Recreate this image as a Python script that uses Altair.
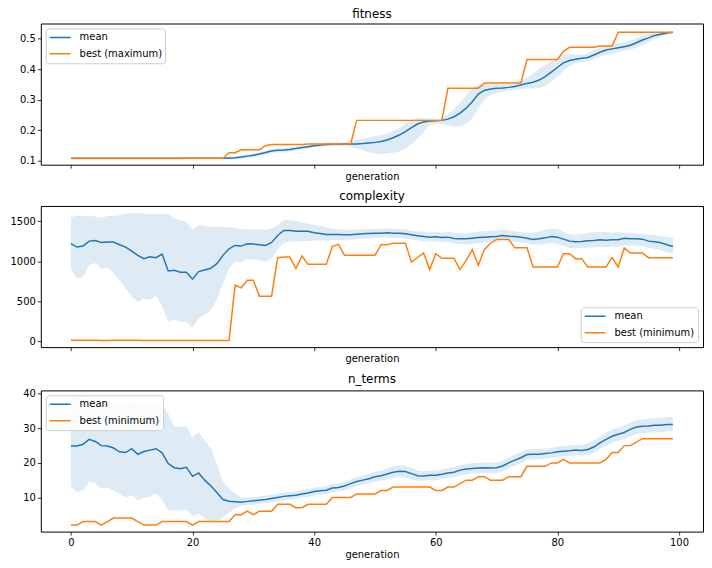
import altair as alt
import pandas as pd

generations = list(range(100))

# ---------------- fitness ----------------
fit_mean = [
    0.108, 0.108, 0.108, 0.108, 0.108, 0.108, 0.108, 0.108, 0.108, 0.108,
    0.108, 0.108, 0.108, 0.108, 0.108, 0.108, 0.108, 0.108, 0.108, 0.108,
    0.108, 0.108, 0.108, 0.108, 0.108, 0.108, 0.109, 0.110, 0.112, 0.115,
    0.118, 0.122, 0.127, 0.132, 0.134, 0.135, 0.137, 0.140, 0.143, 0.146,
    0.149, 0.151, 0.153, 0.154, 0.154, 0.155, 0.155, 0.155, 0.156, 0.158,
    0.160, 0.163, 0.168, 0.175, 0.184, 0.195, 0.208, 0.220, 0.227, 0.230,
    0.231, 0.232, 0.236, 0.244, 0.256, 0.272, 0.293, 0.318, 0.330, 0.335,
    0.337, 0.338, 0.340, 0.343, 0.348, 0.353, 0.357, 0.364, 0.375, 0.390,
    0.405, 0.420, 0.428, 0.432, 0.435, 0.438, 0.446, 0.455, 0.462, 0.466,
    0.470, 0.473, 0.478, 0.486, 0.495, 0.502, 0.510, 0.514, 0.518, 0.520,
]
fit_best = [
    0.107, 0.107, 0.107, 0.107, 0.107, 0.107, 0.107, 0.107, 0.107, 0.107,
    0.107, 0.107, 0.107, 0.107, 0.107, 0.107, 0.107, 0.107, 0.107, 0.108,
    0.108, 0.108, 0.108, 0.108, 0.108, 0.108, 0.126, 0.126, 0.136, 0.136,
    0.136, 0.136, 0.149, 0.153, 0.153, 0.153, 0.153, 0.153, 0.153, 0.155,
    0.155, 0.155, 0.155, 0.155, 0.155, 0.155, 0.155, 0.232, 0.232, 0.232,
    0.232, 0.232, 0.232, 0.232, 0.232, 0.232, 0.232, 0.232, 0.232, 0.232,
    0.232, 0.232, 0.337, 0.337, 0.337, 0.337, 0.337, 0.337, 0.354, 0.354,
    0.354, 0.354, 0.354, 0.354, 0.354, 0.431, 0.431, 0.431, 0.431, 0.431,
    0.431, 0.458, 0.471, 0.471, 0.471, 0.471, 0.471, 0.475, 0.475, 0.475,
    0.520, 0.520, 0.520, 0.520, 0.520, 0.520, 0.520, 0.520, 0.520, 0.520,
]
fit_lo = [
    0.106, 0.106, 0.106, 0.106, 0.106, 0.106, 0.106, 0.106, 0.106, 0.106,
    0.106, 0.106, 0.106, 0.106, 0.106, 0.106, 0.106, 0.106, 0.106, 0.106,
    0.106, 0.106, 0.106, 0.106, 0.106, 0.106, 0.105, 0.105, 0.106, 0.108,
    0.111, 0.115, 0.120, 0.125, 0.128, 0.129, 0.131, 0.134, 0.137, 0.140,
    0.143, 0.145, 0.147, 0.148, 0.148, 0.148, 0.145, 0.140, 0.135, 0.128,
    0.124, 0.122, 0.124, 0.126, 0.130, 0.140, 0.155, 0.170, 0.195, 0.215,
    0.222, 0.222, 0.215, 0.211, 0.212, 0.220, 0.240, 0.270, 0.300, 0.315,
    0.322, 0.326, 0.330, 0.332, 0.334, 0.336, 0.337, 0.338, 0.345, 0.358,
    0.375, 0.395, 0.410, 0.420, 0.423, 0.426, 0.432, 0.440, 0.446, 0.450,
    0.455, 0.460, 0.464, 0.470, 0.478, 0.488, 0.498, 0.506, 0.513, 0.518,
]
fit_hi = [
    0.110, 0.110, 0.110, 0.110, 0.110, 0.110, 0.110, 0.110, 0.110, 0.110,
    0.110, 0.110, 0.110, 0.110, 0.110, 0.110, 0.110, 0.110, 0.110, 0.110,
    0.110, 0.110, 0.110, 0.110, 0.110, 0.110, 0.113, 0.115, 0.118, 0.121,
    0.124, 0.128, 0.133, 0.138, 0.140, 0.141, 0.143, 0.146, 0.149, 0.152,
    0.155, 0.157, 0.159, 0.160, 0.160, 0.161, 0.165, 0.168, 0.172, 0.176,
    0.180, 0.184, 0.190, 0.198, 0.207, 0.220, 0.232, 0.240, 0.240, 0.238,
    0.236, 0.240, 0.252, 0.268, 0.290, 0.315, 0.338, 0.350, 0.352, 0.350,
    0.350, 0.350, 0.352, 0.356, 0.362, 0.372, 0.385, 0.400, 0.412, 0.425,
    0.437, 0.448, 0.450, 0.447, 0.447, 0.452, 0.462, 0.470, 0.476, 0.480,
    0.484, 0.488, 0.493, 0.501, 0.510, 0.516, 0.520, 0.521, 0.522, 0.522,
]

# ---------------- complexity ----------------
cx_mean = [
    1220, 1177, 1189, 1251, 1259, 1235, 1239, 1239, 1206, 1177,
    1127, 1073, 1032, 1056, 1044, 1090, 878, 887, 862, 862,
    775, 870, 891, 911, 969, 1073, 1156, 1197, 1189, 1218,
    1214, 1206, 1197, 1235, 1322, 1384, 1384, 1375, 1375, 1375,
    1355, 1346, 1334, 1334, 1334, 1330, 1330, 1338, 1342, 1346,
    1350, 1350, 1355, 1350, 1350, 1342, 1330, 1317, 1309, 1301,
    1305, 1297, 1301, 1284, 1280, 1280, 1288, 1297, 1301, 1305,
    1309, 1322, 1313, 1309, 1301, 1288, 1272, 1280, 1292, 1309,
    1301, 1276, 1251, 1243, 1247, 1255, 1259, 1268, 1263, 1268,
    1268, 1288, 1280, 1280, 1276, 1251, 1243, 1230, 1206, 1185,
]
cx_best = [
    10, 10, 10, 10, 10, 8, 8, 10, 10, 10,
    10, 10, 8, 8, 8, 8, 8, 8, 8, 8,
    8, 8, 8, 8, 8, 8, 8, 700, 667, 762,
    762, 563, 563, 563, 1044, 1052, 1052, 907, 1065, 961,
    961, 961, 961, 1185, 1210, 1073, 1073, 1073, 1073, 1073,
    1073, 1206, 1206, 1226, 1226, 1226, 990, 1046, 1102, 895,
    1094, 1036, 1036, 1036, 895, 1011, 1143, 949, 1148, 1225,
    1273, 1273, 1273, 1168, 1168, 1168, 928, 928, 928, 928,
    928, 1094, 1094, 1032, 1032, 928, 928, 928, 928, 1044,
    928, 1164, 1102, 1102, 1102, 1044, 1044, 1044, 1044, 1044,
]
cx_lo = [
    907, 783, 804, 949, 978, 907, 920, 845, 762, 659,
    555, 489, 534, 514, 576, 431, 244, 273, 244, 244,
    170, 286, 327, 389, 522, 721, 907, 990, 990, 1023,
    1020, 1015, 990, 1032, 1156, 1226, 1247, 1247, 1250, 1252,
    1259, 1260, 1260, 1262, 1262, 1265, 1268, 1275, 1280, 1285,
    1290, 1292, 1295, 1292, 1290, 1282, 1270, 1258, 1250, 1242,
    1245, 1238, 1240, 1225, 1215, 1210, 1215, 1225, 1230, 1235,
    1238, 1250, 1242, 1240, 1235, 1225, 1210, 1210, 1215, 1225,
    1215, 1190, 1165, 1160, 1165, 1170, 1172, 1178, 1175, 1180,
    1180, 1200, 1195, 1195, 1190, 1165, 1155, 1140, 1115, 1094,
]
cx_hi = [
    1550, 1570, 1570, 1565, 1560, 1540, 1565, 1565, 1575, 1595,
    1603, 1600, 1595, 1590, 1590, 1595, 1590, 1530, 1520, 1487,
    1392, 1454, 1440, 1425, 1437, 1430, 1425, 1420, 1400, 1395,
    1398, 1395, 1392, 1410, 1450, 1520, 1515, 1505, 1480, 1470,
    1455, 1440, 1425, 1405, 1395, 1392, 1392, 1395, 1400, 1403,
    1405, 1405, 1408, 1405, 1403, 1398, 1385, 1375, 1368, 1360,
    1365, 1360, 1365, 1355, 1350, 1350, 1360, 1370, 1375, 1380,
    1385, 1395, 1385, 1375, 1365, 1358, 1355, 1370, 1395, 1410,
    1405, 1365, 1340, 1330, 1340, 1355, 1365, 1370, 1365, 1360,
    1358, 1360, 1355, 1350, 1345, 1335, 1325, 1315, 1305, 1292,
]

# ---------------- n_terms ----------------
nt_mean = [
    24.9, 24.9, 25.4, 26.8, 26.2, 25.0, 24.9, 24.3, 23.2, 23.0,
    24.1, 22.5, 23.3, 23.7, 24.1, 22.9, 19.8, 18.6, 18.3, 18.7,
    16.1, 17.1, 15.0, 13.4, 11.4, 9.4, 8.9, 8.75, 8.6, 8.85,
    9.0, 9.2, 9.4, 9.7, 10.0, 10.3, 10.5, 10.6, 11.0, 11.3,
    11.7, 11.9, 12.1, 12.7, 12.9, 13.3, 14.0, 14.6, 15.0, 15.4,
    16.0, 16.3, 16.8, 17.3, 17.6, 17.5, 16.9, 16.3, 16.2, 16.4,
    16.4, 16.7, 17.1, 17.3, 17.9, 18.2, 18.4, 18.5, 18.6, 18.5,
    18.6, 19.1, 20.0, 20.8, 21.5, 22.4, 22.5, 22.5, 22.7, 22.9,
    23.2, 23.4, 23.5, 23.7, 23.6, 23.9, 24.6, 25.8, 26.8, 27.7,
    28.3, 28.8, 29.7, 30.4, 30.6, 30.7, 30.9, 30.9, 31.1, 31.1,
]
nt_best = [
    2, 2, 3, 3, 3, 2, 3, 4, 4, 4,
    4, 3, 2, 2, 2, 3, 3, 3, 3, 3,
    2, 3, 3, 3, 3, 3, 3, 5, 5, 6,
    5, 6, 6, 6, 8, 8, 8, 7, 7, 8,
    8, 8, 8, 10, 10, 10, 10, 11, 11, 11,
    11, 12, 12, 13, 13, 13, 13, 13, 13, 13,
    12, 12, 13, 13, 14, 15, 15, 16, 16, 15,
    15, 15, 16, 16, 16, 19, 19, 19, 19, 20,
    20, 21, 20, 20, 20, 20, 20, 20, 21, 23,
    23, 25, 25, 26, 27, 27, 27, 27, 27, 27,
]
nt_lo = [
    13.1, 11.6, 11.9, 14.5, 14.2, 12.6, 12.7, 11.9, 11.0, 9.9,
    10.7, 9.0, 9.9, 10.2, 11.2, 9.2, 6.3, 6.2, 6.2, 6.5,
    4.6, 5.4, 3.9, 3.0, 3.0, 4.4, 5.6, 6.8, 7.5, 7.8,
    7.9, 8.1, 8.3, 8.6, 8.9, 9.2, 9.4, 9.5, 9.9, 10.2,
    10.6, 10.8, 11.0, 11.5, 11.7, 12.1, 12.6, 13.3, 13.7, 14.0,
    14.6, 14.8, 15.2, 15.6, 15.9, 15.8, 15.2, 14.8, 14.8, 15.0,
    15.0, 15.3, 15.7, 15.8, 16.4, 16.7, 16.9, 17.0, 17.1, 17.0,
    17.1, 17.6, 18.5, 19.2, 19.9, 20.9, 21.0, 21.0, 21.2, 21.4,
    21.7, 21.9, 22.0, 22.2, 22.1, 22.3, 22.9, 24.0, 25.0, 25.8,
    26.4, 26.9, 27.7, 28.4, 28.6, 28.7, 28.9, 28.9, 29.1, 29.1,
]
nt_hi = [
    39.5, 39.0, 38.5, 39.0, 38.5, 38.0, 38.0, 37.5, 37.0, 37.5,
    38.0, 37.0, 37.0, 37.0, 37.0, 36.5, 34.2, 30.6, 30.4, 30.6,
    27.3, 28.9, 26.5, 24.3, 19.8, 14.5, 12.6, 11.2, 9.9, 10.0,
    10.1, 10.3, 10.5, 10.8, 11.1, 11.4, 11.6, 11.7, 12.1, 12.4,
    12.8, 13.0, 13.3, 13.9, 14.1, 14.6, 15.2, 15.9, 16.3, 16.8,
    17.4, 17.8, 18.4, 19.0, 19.3, 19.2, 18.6, 17.8, 17.6, 17.8,
    17.8, 18.1, 18.5, 18.8, 19.4, 19.7, 19.9, 20.0, 20.1, 20.0,
    20.1, 20.6, 21.5, 22.4, 23.1, 23.9, 24.0, 24.0, 24.2, 24.4,
    24.7, 24.9, 25.0, 25.2, 25.2, 25.6, 26.4, 27.7, 28.7, 29.6,
    30.2, 30.8, 31.7, 32.4, 32.6, 32.8, 33.0, 33.1, 33.3, 33.3,
]

x_ticks = [0, 20, 40, 60, 80, 100]
BLUE = "#1f77b4"
ORANGE = "#ff7f0e"
W, H = 666, 142


def panel(title, mean, best, lo, hi, best_label, ydomain, yticks, yformat,
          legend_orient, show_x_labels):
    wide = pd.DataFrame({"generation": generations, "lo": lo, "hi": hi})
    long = pd.DataFrame({
        "generation": generations + generations,
        "series": ["mean"] * len(mean) + [best_label] * len(best),
        "value": list(mean) + list(best),
    })
    x = alt.X(
        "generation:Q",
        scale=alt.Scale(domain=[-4.95, 103.95], nice=False, zero=False),
        axis=alt.Axis(values=x_ticks, labels=show_x_labels, title="generation",
                      format="d"),
    )
    yscale = alt.Scale(domain=ydomain, nice=False, zero=False)
    yaxis = alt.Axis(values=yticks, title=None, format=yformat,
                     minExtent=32, maxExtent=32)
    band = alt.Chart(wide).mark_area(color=BLUE, opacity=0.15).encode(
        x=x,
        y=alt.Y("lo:Q", scale=yscale, axis=yaxis),
        y2="hi:Q",
    )
    lines = alt.Chart(long).mark_line(strokeWidth=1.5).encode(
        x=x,
        y=alt.Y("value:Q", scale=yscale, axis=yaxis),
        color=alt.Color(
            "series:N",
            scale=alt.Scale(domain=["mean", best_label], range=[BLUE, ORANGE]),
            legend=alt.Legend(orient=legend_orient, title=None),
        ),
    )
    return alt.layer(band, lines).properties(title=title, width=W, height=H)


p1 = panel("fitness", fit_mean, fit_best, fit_lo, fit_hi, "best (maximum)",
           [0.087, 0.549], [0.1, 0.2, 0.3, 0.4, 0.5], ".1f", "top-left", False)
p2 = panel("complexity", cx_mean, cx_best, cx_lo, cx_hi, "best (minimum)",
           [-75, 1691], [0, 500, 1000, 1500], "d", "bottom-right", False)
p3 = panel("n_terms", nt_mean, nt_best, nt_lo, nt_hi, "best (minimum)",
           [0.1, 41.0], [10, 20, 30, 40], "d", "top-left", True)

chart = (
    alt.vconcat(p1, p2, p3, spacing=6.5)
    .resolve_scale(color="independent", x="independent", y="independent")
    .resolve_legend(color="independent")
    .properties(padding={"left": 0, "top": -3, "right": 0, "bottom": 0})
    .configure(font="DejaVu Sans")
    .configure_view(stroke="black", strokeWidth=1)
    .configure_axis(
        grid=False, domain=False,
        tickColor="black", tickSize=3.5, tickWidth=0.8,
        labelColor="black", labelFontSize=10, labelPadding=2,
        titleColor="black", titleFontSize=10, titleFontWeight="normal",
        titlePadding=3,
    )
    .configure_title(fontSize=12, fontWeight="normal", color="black",
                     anchor="middle", offset=3)
    .configure_legend(
        fillColor="rgba(255,255,255,0.8)", strokeColor="#cccccc",
        cornerRadius=3, padding=3, offset=5,
        labelFontSize=10, labelColor="black", labelOffset=8,
        symbolType="stroke", symbolStrokeWidth=1.5, symbolSize=441,
        clipHeight=12, rowPadding=4.5,
    )
)

chart.save("out.html", embed_options={"renderer": "svg", "actions": False})
